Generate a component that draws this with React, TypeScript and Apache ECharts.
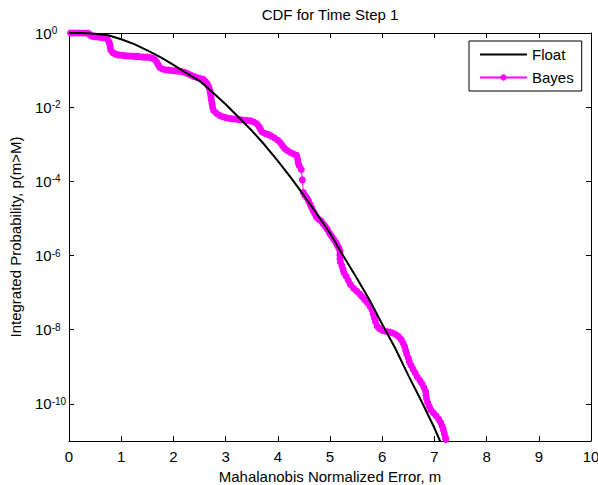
import React, { useEffect, useRef } from 'react';
import * as echarts from 'echarts';

const FONT = '"Liberation Sans", Arial, Helvetica, sans-serif';

const titleText = 'CDF for Time Step 1';
const xName = 'Mahalanobis Normalized Error, m';
const yName = 'Integrated Probability, p(m>M)';
const seriesNames = ['Float', 'Bayes'];

// y-axis tick values (log scale)
const yTickValues = [1, 1e-2, 1e-4, 1e-6, 1e-8, 1e-10];

// Float curve: x and log10(probability)
const floatX = [0, 0.25, 0.5, 0.75, 1.0, 1.25, 1.5, 1.75, 2.0, 2.25, 2.5, 2.75, 3.0, 3.25, 3.5, 3.75, 4.0, 4.25, 4.5, 4.75, 5.0, 5.25, 5.5, 5.75, 6.0, 6.25, 6.5, 6.75, 7.0, 7.2];
const floatLog10P = [0, 0, -0.02, -0.06, -0.17, -0.30, -0.47, -0.65, -0.86, -1.08, -1.29, -1.60, -1.92, -2.27, -2.63, -3.02, -3.45, -3.90, -4.38, -4.88, -5.40, -6.00, -6.58, -7.18, -7.85, -8.50, -9.23, -9.92, -10.65, -11.3];

// Bayes curve: x and log10(probability)
const bayesX = [
  0.03, 0.08, 0.14, 0.20, 0.26, 0.32, 0.37, 0.40, 0.44, 0.50,
  0.56, 0.62, 0.68, 0.73, 0.76, 0.78, 0.79, 0.80, 0.84, 0.89,
  0.95, 1.01, 1.07, 1.13, 1.19, 1.25, 1.31, 1.37, 1.43, 1.49,
  1.55, 1.60, 1.65, 1.68, 1.71, 1.74, 1.79, 1.85, 1.91, 1.97,
  2.03, 2.09, 2.15, 2.21, 2.27, 2.33, 2.39, 2.45, 2.51, 2.57,
  2.61, 2.65, 2.68, 2.70, 2.71, 2.72, 2.73, 2.74, 2.75, 2.77,
  2.82, 2.88, 2.94, 3.00, 3.06, 3.12, 3.18, 3.24, 3.30, 3.36,
  3.42, 3.48, 3.54, 3.60, 3.64, 3.67, 3.70, 3.76, 3.82, 3.88,
  3.94, 4.00, 4.05, 4.09, 4.13, 4.18, 4.24, 4.30, 4.36, 4.38,
  4.39, 4.41, 4.45, 4.47, 4.49, 4.52, 4.56, 4.59, 4.62, 4.65,
  4.68, 4.71, 4.74, 4.78, 4.83, 4.87, 4.91, 4.95, 4.99, 5.03,
  5.07, 5.11, 5.14, 5.17, 5.19, 5.19, 5.19, 5.20, 5.23, 5.25,
  5.27, 5.31, 5.35, 5.39, 5.45, 5.51, 5.57, 5.62, 5.67, 5.72,
  5.77, 5.81, 5.83, 5.85, 5.87, 5.90, 5.95, 6.01, 6.07, 6.13,
  6.19, 6.25, 6.31, 6.36, 6.40, 6.43, 6.45, 6.47, 6.50, 6.52,
  6.55, 6.59, 6.63, 6.67, 6.72, 6.76, 6.80, 6.83, 6.84, 6.85,
  6.87, 6.90, 6.93, 6.98, 7.03, 7.08, 7.12, 7.15, 7.17, 7.19,
  7.21, 7.22,
];
const bayesLog10P = [
  0, 0, 0, 0, 0, 0, -0.01, -0.05, -0.09, -0.10,
  -0.11, -0.12, -0.13, -0.16, -0.22, -0.30, -0.38, -0.46, -0.53, -0.57,
  -0.59, -0.60, -0.61, -0.62, -0.62, -0.63, -0.63, -0.64, -0.65, -0.65,
  -0.66, -0.68, -0.72, -0.79, -0.86, -0.93, -0.97, -0.99, -1.00, -1.01,
  -1.02, -1.03, -1.04, -1.06, -1.09, -1.13, -1.17, -1.20, -1.23, -1.25,
  -1.30, -1.37, -1.46, -1.55, -1.64, -1.73, -1.82, -1.91, -2.00, -2.09,
  -2.16, -2.22, -2.26, -2.28, -2.30, -2.31, -2.32, -2.33, -2.34, -2.35,
  -2.36, -2.37, -2.40, -2.45, -2.52, -2.60, -2.67, -2.71, -2.74, -2.78,
  -2.83, -2.89, -2.96, -3.04, -3.11, -3.17, -3.22, -3.26, -3.30, -3.40,
  -3.50, -3.58, -3.68, -3.96, -4.30, -4.38, -4.45, -4.53, -4.62, -4.71,
  -4.80, -4.88, -4.96, -5.02, -5.07, -5.15, -5.22, -5.30, -5.40, -5.48,
  -5.56, -5.64, -5.72, -5.80, -5.88, -5.98, -6.08, -6.18, -6.28, -6.38,
  -6.47, -6.56, -6.67, -6.78, -6.88, -6.96, -7.04, -7.12, -7.20, -7.28,
  -7.38, -7.48, -7.58, -7.68, -7.78, -7.90, -7.97, -8.02, -8.04, -8.06,
  -8.08, -8.12, -8.18, -8.26, -8.36, -8.46, -8.56, -8.66, -8.76, -8.86,
  -8.96, -9.06, -9.16, -9.27, -9.36, -9.45, -9.56, -9.66, -9.76, -9.86,
  -9.96, -10.06, -10.16, -10.24, -10.32, -10.41, -10.50, -10.60, -10.70, -10.80,
  -10.90, -10.96,
];

export default function App() {
  const ref = useRef<HTMLDivElement>(null);

  useEffect(() => {
    const chart = echarts.init(ref.current!, null, { renderer: 'svg' });
    const floatData = floatX.map((x, i) => [x, Math.pow(10, floatLog10P[i])]);
    const bayesData = bayesX.map((x, i) => [x, Math.pow(10, bayesLog10P[i])]);

    const axisLine = { show: true, onZero: false, lineStyle: { color: '#000', width: 1 } };
    const tickStyle = { color: '#000', width: 1 };

    chart.setOption({
      animation: false,
      backgroundColor: '#fff',
      title: {
        text: titleText,
        left: 330,
        top: 7,
        padding: 0,
        textAlign: 'center',
        textStyle: { fontSize: 15, fontWeight: 'normal', color: '#000', fontFamily: FONT },
      },
      grid: { left: 69, top: 33, width: 522, height: 408, outerBoundsMode: 'none', containLabel: false },
      legend: {
        orient: 'vertical',
        left: 469,
        top: 41,
        padding: [5, 8, 5, 10],
        itemWidth: 47,
        itemHeight: 8,
        itemGap: 6,
        itemTextGap: 8,
        borderColor: '#000',
        borderWidth: 1,
        borderRadius: 0,
        backgroundColor: '#fff',
        textStyle: { fontSize: 15, lineHeight: 17, color: '#000', fontFamily: FONT },
        data: [
          { name: seriesNames[0], icon: 'path://M0,0H47V2.2H0Z', itemStyle: { color: '#000' } },
          { name: seriesNames[1] },
        ],
      },
      xAxis: [
        {
          type: 'value',
          min: 0,
          max: 10,
          interval: 1,
          position: 'bottom',
          axisLine,
          axisTick: { show: true, inside: true, length: 5, lineStyle: tickStyle },
          axisLabel: { margin: 8, fontSize: 15, color: '#000', fontFamily: FONT, showMinLabel: true, showMaxLabel: true },
          splitLine: { show: false },
          name: xName,
          nameLocation: 'middle',
          nameGap: 27,
          nameTextStyle: { fontSize: 15, color: '#000', fontFamily: FONT },
        },
        {
          type: 'value',
          min: 0,
          max: 10,
          interval: 1,
          position: 'top',
          axisLine,
          axisTick: { show: true, inside: true, length: 5, lineStyle: tickStyle },
          axisLabel: { show: false },
          splitLine: { show: false },
        },
      ],
      yAxis: [
        {
          type: 'log',
          logBase: 10,
          min: 1e-11,
          max: 1,
          position: 'left',
          axisLine,
          axisTick: { show: true, inside: true, length: 5, lineStyle: tickStyle, customValues: yTickValues },
          axisLabel: {
            customValues: yTickValues,
            align: 'left',
            margin: 34,
            color: '#000',
            fontFamily: FONT,
            fontSize: 15,
            formatter: (v: number) => '{b|10}{e|' + Math.round(Math.log10(v)) + '}',
            rich: {
              b: { fontSize: 15, lineHeight: 15, fontFamily: FONT, color: '#000' },
              e: { fontSize: 10, lineHeight: 10, fontFamily: FONT, color: '#000', verticalAlign: 'top', padding: [0, 0, 14, 0] },
            },
          },
          splitLine: { show: false },
          minorTick: { show: false },
          name: yName,
          nameLocation: 'middle',
          nameGap: 46,
          nameTextStyle: { fontSize: 15, color: '#000', fontFamily: FONT },
        },
        {
          type: 'log',
          logBase: 10,
          min: 1e-11,
          max: 1,
          position: 'right',
          axisLine,
          axisTick: { show: true, inside: true, length: 5, lineStyle: tickStyle, customValues: yTickValues },
          axisLabel: { show: false },
          splitLine: { show: false },
          minorTick: { show: false },
        },
      ],
      series: [
        {
          name: 'Float',
          type: 'line',
          data: floatData,
          xAxisIndex: 0,
          yAxisIndex: 0,
          symbol: 'none',
          showSymbol: false,
          lineStyle: { color: '#000', width: 2 },
          itemStyle: { color: '#000' },
          z: 3,
          silent: true,
          clip: true,
        },
        {
          name: 'Bayes',
          type: 'line',
          data: bayesData,
          xAxisIndex: 0,
          yAxisIndex: 0,
          symbol: 'circle',
          symbolSize: 7,
          showSymbol: true,
          lineStyle: { color: '#ff00ff', width: 1 },
          itemStyle: { color: '#ff00ff' },
          z: 2,
          silent: true,
          clip: true,
        },
      ],
    });
    return () => chart.dispose();
  }, []);

  return (
    <div
      ref={ref}
      style={{ position: 'fixed', left: 0, top: 0, width: 598, height: 485, background: '#fff' }}
    />
  );
}
